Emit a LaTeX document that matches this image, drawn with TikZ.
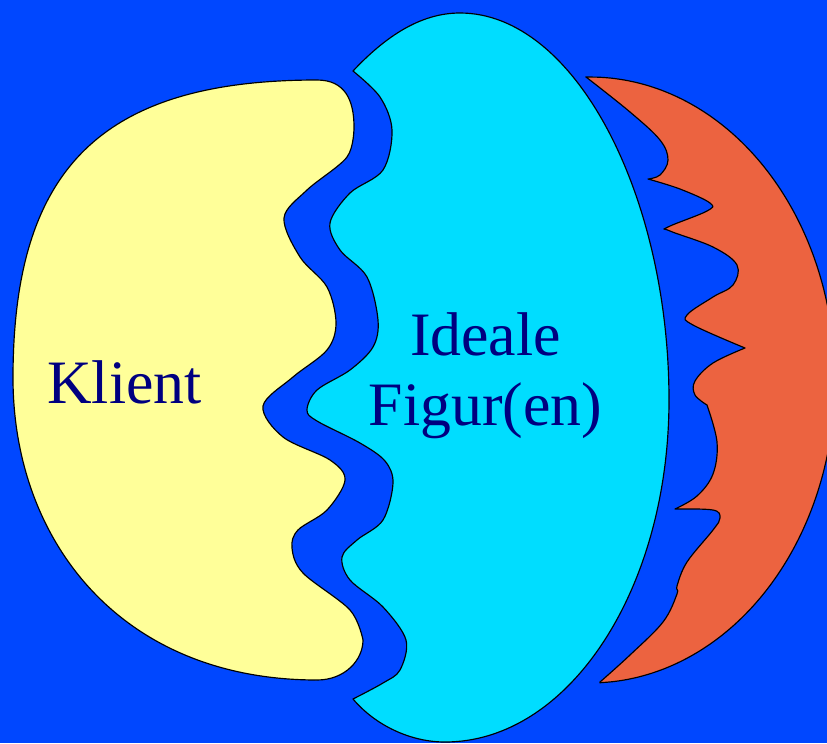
\documentclass[tikz,border=0pt]{standalone}
\usepackage{fontspec}
\setmainfont{Liberation Serif}
\definecolor{bgblue}{RGB}{0,71,255}
\definecolor{klientyellow}{RGB}{255,255,153}
\definecolor{idealcyan}{RGB}{0,221,255}
\definecolor{crescentred}{RGB}{236,99,64}
\definecolor{textnavy}{RGB}{0,0,128}
\tikzset{
  blob/.style={draw=black, line width=1pt, line join=round},
  lbl/.style={text=textnavy, inner sep=0pt, font=\fontsize{52.7}{59.5}\selectfont}
}
\begin{document}
\begin{tikzpicture}[x=0.03cm, y=-0.03cm]
\useasboundingbox (0,0) rectangle (827,743);
\fill[bgblue] (0,0) rectangle (827,743);
\clip (0,0) rectangle (827,743);
% Klient (yellow)
\path[blob, fill=klientyellow]
 (13,378) .. controls (13,170) and (100,80) .. (317,80)
 .. controls (345,80) and (354,100) .. (354,127)
 -- plot[smooth, tension=0.55] coordinates {
 (354,127) (347,157) (307,190) (284,218) (300,257) (327,287)
 (336,323) (327,350) (293,377) (263,406) (283,437) (330,460) (345,480) (327,510)
 (298,530) (292,548) (303,573) (350,610) (363,640)}
 .. controls (363,660) and (345,680) .. (317,680)
 .. controls (120,680) and (13,540) .. (13,378) -- cycle;
% Ideale Figur(en) (cyan)
\path[blob, fill=idealcyan]
 (353,71) .. controls (385,37) and (420,13) .. (460,13)
 .. controls (575,13) and (669,195) .. (669,400)
 .. controls (669,589) and (569,742) .. (445,742)
 .. controls (410,742) and (375,725) .. (353,699)
 -- plot[smooth, tension=0.55] coordinates {
 (353,699) (383,683) (400,670) (406,640) (383,607) (350,580) (342,557) (357,540)
 (383,520) (393,483) (385,461) (360,443) (317,421) (307,410) (317,390) (350,370)
 (373,347) (378,320) (367,277) (340,250) (330,223) (350,193) (383,170) (392,130)
 (380,97) (353,71)} -- cycle;
% Crescent (red)
\path[blob, fill=crescentred]
 plot[smooth, domain=91:-87.7, samples=60, variable=\t] ({590+245*cos(\t)},{380-303*sin(\t)})
 -- plot[smooth, tension=0.6] coordinates {
 (600,682) (630,655) (663,622) (677,594) (677,586) (687,562) (713,530) (720,518)
 (713,510) (675,509)}
 -- plot[smooth, tension=0.6] coordinates {
 (675,509) (697,496) (713,474) (717,442) (707,405)}
 -- plot[smooth, tension=0.6] coordinates {
 (707,405) (695,395) (695,381) (713,363) (745,348)}
 -- plot[smooth, tension=0.6] coordinates {
 (745,348) (693,325) (687,315) (713,297) (733,285) (737,265) (713,247) (670,231)
 (668,227) (707,211) (710,203) (680,189) (648,179)}
 -- plot[smooth, tension=0.6] coordinates {
 (648,179) (660,175) (668,160) (660,140) (630,112) (586,77)} -- cycle;
% Labels
\node[lbl, anchor=base] (klient) at (124.5,403) {Klient};
\node[lbl, align=center, anchor=center] (ideale) at (485.5,375.6) {Ideale\\Figur(en)};
\end{tikzpicture}
\end{document}
